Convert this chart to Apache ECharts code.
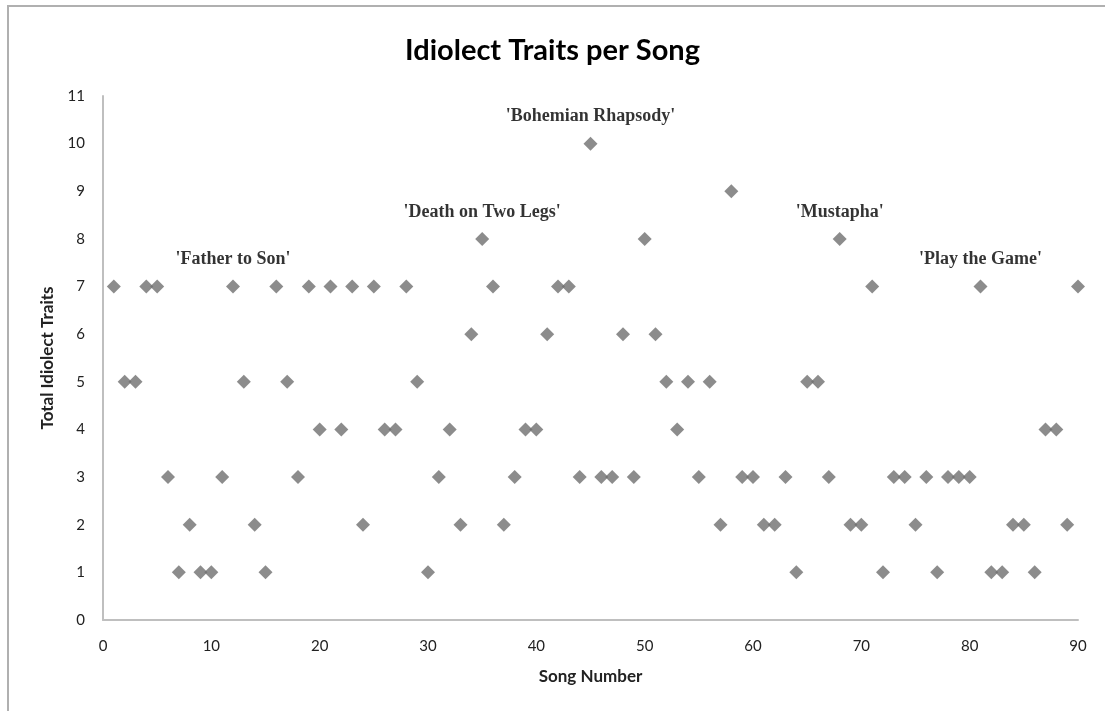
<!DOCTYPE html>
<html>
<head>
<meta charset="utf-8">
<script src="https://cdn.jsdelivr.net/npm/echarts@6/dist/echarts.min.js"></script>
<style>
html,body{margin:0;padding:0;background:#fff;}
#chart{width:1105px;height:711px;}
</style>
</head>
<body>
<div id="chart"></div>
<script>
const songNumbers = [];
for (let i = 1; i <= 90; i++) songNumbers.push(i);
const traits = [
  7,5,5,7,7,3,1,2,1,1,
  3,7,5,2,1,7,5,3,7,4,
  7,4,7,2,7,4,4,7,5,1,
  3,4,2,6,8,7,2,3,4,4,
  6,7,7,3,10,3,3,6,3,8,
  6,5,4,5,3,5,2,9,3,3,
  2,2,3,1,5,5,3,8,2,2,
  7,1,3,3,2,3,1,3,3,3,
  7,1,1,2,2,1,4,4,2,7
];
const annotatedSongs = [12, 35, 45, 68, 81];
const annotationTexts = ["'Father to Son'", "'Death on Two Legs'", "'Bohemian Rhapsody'", "'Mustapha'", "'Play the Game'"];
const xTicks = [0,10,20,30,40,50,60,70,80,90];
const yTicks = [0,1,2,3,4,5,6,7,8,9,10,11];

const seriesData = songNumbers.map((s, i) => {
  const idx = annotatedSongs.indexOf(s);
  const item = { value: [s, traits[i]] };
  if (idx >= 0) {
    item.label = {
      show: true,
      formatter: annotationTexts[idx],
      position: 'top',
      distance: 11,
      fontFamily: 'Liberation Serif',
      fontWeight: 'bold',
      fontSize: 18,
      color: '#000'
    };
  }
  return item;
});

const axisFont = 'Lato, "Open Sans", sans-serif';
const chart = echarts.init(document.getElementById('chart'));
chart.setOption({
  backgroundColor: '#fff',
  animation: false,
  title: {
    text: 'Idiolect Traits per Song',
    left: 'center',
    top: 31,
    textStyle: { fontFamily: axisFont, fontWeight: 'bold', fontSize: 29, color: '#000' }
  },
  graphic: [{
    type: 'rect',
    shape: { x: 8, y: 6, width: 1200, height: 800 },
    style: { fill: 'none', stroke: '#b0b0b0', lineWidth: 2 },
    silent: true
  }],
  grid: { left: 103, right: 27, top: 96, bottom: 91, containLabel: false },
  xAxis: {
    type: 'value',
    min: xTicks[0], max: xTicks[xTicks.length - 1], interval: 10,
    name: 'Song Number',
    nameLocation: 'middle',
    nameGap: 48,
    nameTextStyle: { fontFamily: axisFont, fontWeight: 'bold', fontSize: 17, color: '#222' },
    axisLine: { show: true, onZero: false, lineStyle: { color: '#bfbfbf', width: 2 } },
    axisTick: { show: false },
    splitLine: { show: false },
    axisLabel: { margin: 19, fontFamily: axisFont, fontSize: 15, color: '#222' }
  },
  yAxis: {
    type: 'value',
    min: yTicks[0], max: yTicks[yTicks.length - 1], interval: 1,
    name: 'Total Idiolect Traits',
    nameLocation: 'middle',
    nameGap: 47,
    nameTextStyle: { fontFamily: axisFont, fontWeight: 'bold', fontSize: 17, color: '#222' },
    axisLine: { show: true, onZero: false, lineStyle: { color: '#bfbfbf', width: 2 } },
    axisTick: { show: false },
    splitLine: { show: false },
    axisLabel: { margin: 18, fontFamily: axisFont, fontSize: 15, color: '#222' }
  },
  series: [{
    type: 'scatter',
    symbol: 'diamond',
    symbolSize: 14,
    itemStyle: { color: '#6f6f6f' },
    data: seriesData
  }]
});
</script>
</body>
</html>
